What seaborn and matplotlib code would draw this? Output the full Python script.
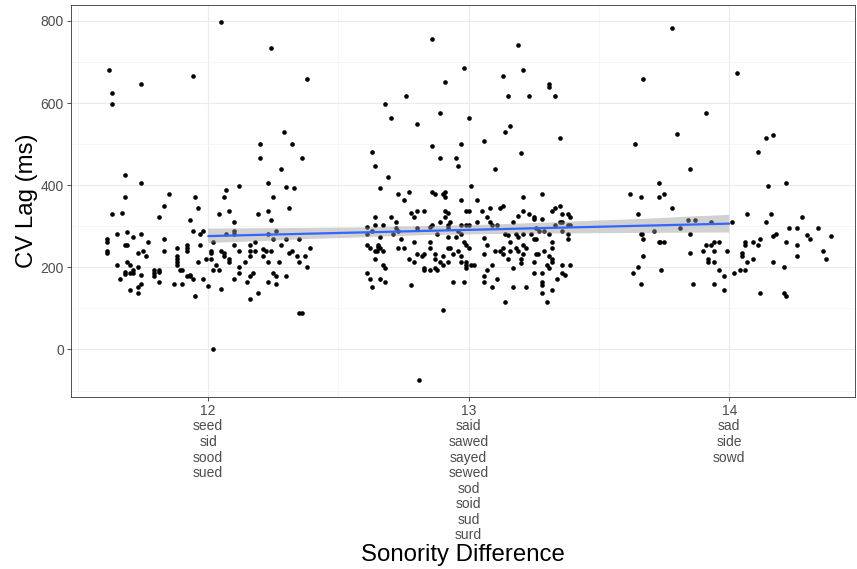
import matplotlib
matplotlib.use("Agg")
import matplotlib.pyplot as plt
import seaborn as sns
import numpy as np
import pandas as pd
from matplotlib.ticker import FixedLocator

# ---------------- data (jittered sonority difference, CV lag in ms) ----------------
x_12 = [12.05, 12.24, 11.62, 11.94, 11.74, 12.38, 11.63, 11.63, 12.29, 12.20, 12.32, 12.20, 12.36,
        11.68, 12.28, 11.74, 12.12, 12.23, 12.30, 12.33, 12.07, 11.68, 11.85, 11.95, 12.06, 12.25,
        11.63, 11.67, 11.83, 11.81, 11.96, 11.93, 12.04, 12.08, 12.10, 12.19, 12.23, 12.24, 12.31,
        11.65, 11.69, 11.71, 11.74, 11.61, 11.61, 11.68, 11.69, 11.77, 11.83, 11.94, 11.97, 11.98,
        12.07, 12.10, 12.10, 12.23, 12.26, 12.25, 12.30, 12.35, 12.28, 12.39, 11.61, 11.61, 11.73,
        11.75, 11.76, 11.83, 11.88, 11.92, 11.92, 11.92, 11.97, 12.02, 12.01, 12.01, 12.01, 11.99,
        11.96, 12.05, 12.06, 12.06, 12.10, 12.12, 12.08, 12.08, 12.14, 12.16, 12.18, 12.16, 12.18,
        12.16, 12.21, 12.22, 12.24, 12.21, 12.23, 12.27, 12.32, 12.31, 12.34, 12.37, 12.35, 12.38,
        11.65, 11.69, 11.70, 11.73, 11.68, 11.68, 11.70, 11.71, 11.71, 11.74, 11.79, 11.79, 11.79,
        11.81, 11.81, 11.66, 11.81, 11.88, 11.88, 11.88, 11.88, 11.89, 11.90, 11.92, 11.93, 11.93,
        11.94, 11.98, 12.02, 12.03, 12.04, 12.12, 12.12, 12.10, 12.17, 12.16, 12.15, 12.25, 12.26,
        12.30, 12.23, 12.26, 11.87, 11.90, 11.74, 11.73, 11.70, 11.73, 12.00, 12.05, 11.95, 12.19,
        12.16, 12.35, 12.36, 12.02]
y_12 = [797, 735, 680, 667, 646, 659, 625, 598, 529, 501, 501, 467, 467,
        426, 440, 405, 399, 405, 395, 392, 388, 371, 378, 371, 371, 371,
        330, 333, 350, 323, 344, 316, 330, 337, 310, 330, 337, 316, 344,
        282, 285, 275, 282, 268, 262, 254, 254, 262, 268, 289, 282, 289,
        282, 289, 282, 282, 289, 268, 268, 268, 254, 248, 241, 234, 234,
        241, 227, 241, 248, 254, 248, 241, 254, 261, 241, 234, 220, 220,
        213, 241, 234, 227, 254, 241, 220, 213, 213, 254, 261, 241, 241,
        227, 245, 241, 241, 227, 213, 213, 241, 234, 227, 227, 213, 200,
        206, 213, 206, 200, 189, 184, 187, 193, 186, 182, 193, 186, 179,
        193, 189, 172, 165, 227, 220, 213, 206, 193, 193, 179, 179, 182,
        172, 172, 193, 206, 193, 200, 186, 172, 186, 179, 165, 186, 179,
        179, 165, 159, 159, 159, 159, 151, 145, 138, 155, 148, 131, 138,
        124, 90, 90, 0]

x_13 = [12.86, 13.19, 12.98, 13.21, 13.13, 12.91, 13.31, 13.31, 12.76, 13.15, 13.23, 13.33, 12.68,
        12.89, 12.70, 13.00, 12.80, 13.16, 13.14, 13.35, 13.06, 12.97, 12.86, 12.63, 13.20, 12.89,
        12.95, 12.64, 12.96, 13.10, 12.69, 13.01, 12.66, 12.73, 12.77, 12.86, 12.87, 12.91, 12.91,
        12.90, 12.75, 12.97, 13.03, 13.21, 13.28, 13.13, 13.12, 13.08, 13.35, 13.33,
        12.78, 12.79, 12.80, 12.83, 12.91, 12.92, 12.91, 12.99, 13.00, 13.05, 13.07, 13.21, 13.23,
        13.25, 13.25, 13.28, 13.32, 13.36, 13.38, 13.39, 12.64, 12.70, 12.61, 12.61, 12.64, 12.67,
        12.63, 12.66, 12.72, 12.72, 12.73, 12.71, 12.74, 12.80, 12.85, 12.86, 12.89, 12.93, 12.92,
        12.92, 12.88, 12.92, 12.95, 12.96, 12.97, 12.97, 12.99, 13.00, 13.03, 13.08, 13.09, 13.11,
        13.17, 13.19, 13.14, 13.15, 13.18, 13.19, 13.21, 13.24, 13.26, 13.27, 13.29, 13.31, 13.33,
        13.35, 13.36, 13.36, 13.38, 13.39, 13.38, 13.06, 13.25, 13.26, 13.38, 12.61, 12.62, 12.65,
        12.65, 12.646, 12.64, 12.66, 12.67, 12.73, 12.75, 12.79, 12.85, 12.85, 12.92, 12.93, 12.96,
        12.98, 12.99, 13.00, 13.07, 13.10, 13.12, 13.13, 13.13, 13.16, 13.16, 13.18, 13.19, 13.21,
        13.22, 13.21, 13.29, 13.32, 13.32, 13.06, 12.80, 12.82, 12.83, 12.77, 12.79, 12.87, 12.90,
        12.94, 12.97, 12.87, 12.89, 12.90, 12.92, 12.83, 12.83, 12.85, 12.87, 12.88, 12.97, 12.99,
        12.99, 12.99, 13.01, 13.02, 12.64, 12.67, 12.68, 12.61, 12.62, 12.63, 12.66, 12.68, 12.78,
        12.94, 12.98, 13.09, 13.07, 13.06, 13.057, 13.11, 13.09, 13.15, 13.17, 13.20, 13.20, 13.17,
        13.22, 13.14, 13.25, 13.25, 13.26, 13.265, 13.28, 13.28, 13.28, 13.28, 13.30, 13.31, 13.32,
        13.32, 13.31, 13.36, 13.39, 13.36, 13.37, 13.34, 13.32, 13.30, 12.90, 12.81]
y_13 = [755, 741, 686, 680, 666, 652, 646, 639, 618, 618, 618, 618, 598,
        577, 563, 563, 549, 543, 529, 515, 508, 501, 495, 481, 478, 467,
        467, 447, 447, 440, 419, 399, 392, 378, 384, 384, 378, 384, 371,
        378, 364, 364, 364, 371, 378, 350, 344, 344, 350, 344,
        332, 323, 337, 337, 337, 332, 323, 337, 337, 337, 323, 337, 330,
        323, 317, 317, 337, 330, 330, 323, 323, 323, 298, 282, 302, 302,
        289, 275, 310, 296, 289, 282, 268, 296, 298, 302, 310, 310, 302,
        296, 282, 275, 275, 289, 282, 302, 302, 302, 310, 310, 302, 302,
        310, 325, 282, 278, 282, 275, 282, 282, 296, 289, 289, 282, 302,
        310, 310, 289, 302, 302, 282, 272, 268, 268, 268, 254, 247, 254,
        250, 241, 241, 247, 241, 247, 247, 261, 261, 247, 247, 247, 241,
        261, 254, 247, 254, 241, 241, 247, 233, 261, 241, 247, 241, 254,
        247, 233, 241, 247, 261, 233, 233, 227, 233, 220, 213, 233, 227,
        233, 227, 220, 213, 206, 213, 199, 193, 193, 199, 193, 213, 213,
        206, 199, 206, 206, 220, 206, 199, 186, 172, 151, 172, 165, 158,
        165, 165, 206, 193, 179, 165, 172, 151, 220, 199, 220, 210, 151,
        151, 116, 213, 186, 233, 233, 186, 165, 158, 138, 206, 227, 220,
        213, 199, 206, 206, 186, 182, 172, 144, 116, 96, -75]

x_14 = [13.78, 13.67, 14.03, 13.91, 13.80, 13.64, 14.14, 14.17, 14.11, 13.85, 13.73, 14.15, 14.22,
        13.62, 13.66, 13.73, 13.75, 13.78, 13.65, 13.84, 13.87, 13.93, 14.01, 14.07, 14.16, 14.14,
        14.28, 13.81, 13.71, 13.66, 13.665, 13.67, 13.85, 14.23, 14.26, 14.34, 14.17, 14.18, 14.30,
        14.31, 14.39, 13.73, 13.735, 13.75, 13.91, 13.93, 13.94, 13.96, 14.06, 14.06, 14.09, 14.11,
        14.12, 14.22, 14.26, 13.90, 13.94, 13.99, 13.85, 13.67, 14.05, 14.05, 14.09, 14.07, 14.26,
        14.36, 14.37, 13.92, 13.92, 13.94, 14.17, 13.65, 13.63, 13.74, 13.96, 13.98, 14.02, 14.04,
        14.06, 14.21, 13.66, 13.86, 13.94, 13.98, 14.12, 14.21, 14.22]
y_14 = [783, 659, 673, 577, 525, 501, 515, 522, 481, 440, 405, 399, 405,
        378, 371, 371, 378, 344, 330, 316, 316, 310, 310, 330, 330, 310,
        323, 296, 289, 282, 282, 268, 282, 296, 296, 296, 276, 282, 279,
        268, 276, 262, 262, 262, 254, 254, 262, 262, 262, 254, 262, 254,
        268, 262, 254, 241, 241, 241, 234, 227, 234, 227, 220, 213, 227,
        241, 220, 220, 213, 213, 213, 200, 186, 193, 193, 179, 186, 193,
        193, 200, 159, 159, 159, 145, 138, 138, 131]

tick_positions = [12, 13, 14]
tick_labels = ["12\nseed\nsid\nsood\nsued",
               "13\nsaid\nsawed\nsayed\nsewed\nsod\nsoid\nsud\nsurd",
               "14\nsad\nside\nsowd"]
y_ticks = [0, 200, 400, 600, 800]

# ---------------- build table ----------------
df = pd.DataFrame({
    "jit": x_12 + x_13 + x_14,
    "lag": y_12 + y_13 + y_14,
    "son": [12] * len(x_12) + [13] * len(x_13) + [14] * len(x_14),
})

sns.set_theme(style="white")
plt.rcParams["font.family"] = ["Liberation Sans", "DejaVu Sans"]

fig = plt.figure(figsize=(8.57, 5.69), dpi=100)
ax = fig.add_axes([70.7 / 857, 1 - 397 / 569, (855 - 70.7) / 857, (397 - 5) / 569])

sns.scatterplot(data=df, x="jit", y="lag", color="black", s=11, linewidth=0, ax=ax, zorder=3)
sns.regplot(data=df, x="son", y="lag", scatter=False, ci=95, seed=1, truncate=True,
            color="#3366FF", line_kws={"linewidth": 1.6, "zorder": 5}, ax=ax)
# ggplot-style grey confidence band
for coll in ax.collections[1:]:
    coll.set_alpha(None)
    coll.set_facecolor((0.6, 0.6, 0.6, 0.45))
    coll.set_edgecolor("none")
    coll.set_zorder(4)

ax.set_xlim(11.472, 14.483)
ax.set_ylim(-115.7, 838.8)

ax.set_xticks(tick_positions)
ax.set_xticklabels(tick_labels, linespacing=1.14)
ax.set_yticks(y_ticks)
ax.xaxis.set_minor_locator(FixedLocator([11.5, 12.5, 13.5]))
ax.yaxis.set_minor_locator(FixedLocator([-100, 100, 300, 500, 700]))

ax.set_axisbelow(True)
ax.grid(which="major", color="#EBEBEB", linewidth=0.8)
ax.grid(which="minor", color="#F2F2F2", linewidth=0.45)

ax.tick_params(which="major", axis="both", direction="out", length=3, width=0.6,
               color="#333333", labelcolor="#4D4D4D", labelsize=10, pad=2,
               bottom=True, left=True)
ax.tick_params(which="minor", length=0)

for sp in ax.spines.values():
    sp.set_color("#333333")
    sp.set_linewidth(0.6)

ax.set_xlabel("Sonority Difference", fontsize=17.3, color="black", labelpad=1.5)
ax.set_ylabel("CV Lag (ms)", fontsize=17.3, color="black", labelpad=2)

fig.savefig("out.png", dpi=100, facecolor="white")
